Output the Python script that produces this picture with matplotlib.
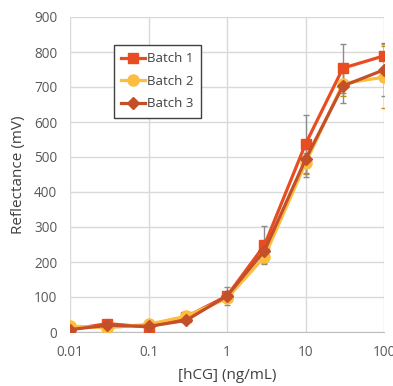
import matplotlib
matplotlib.use("Agg")
import matplotlib.pyplot as plt
from matplotlib.ticker import FixedLocator, FixedFormatter, NullLocator

conc = [0.01, 0.03, 0.1, 0.3, 1, 3, 10, 30, 100]
batch1 = [7, 24, 14, 43, 103, 248, 537, 754, 789]
batch2 = [17, 12, 22, 45, 96, 215, 482, 710, 728]
batch3 = [7, 19, 16, 33, 103, 232, 493, 703, 749]
err1 = [3, 6, 4, 6, 25, 55, 82, 70, 37]
err2 = [2, 3, 3, 4, 8, 17, 30, 35, 88]
err3 = [2, 4, 3, 4, 10, 25, 50, 50, 75]

xticks = [0.01, 0.1, 1, 10, 100]
xticklabels = ["0.01", "0.1", "1", "10", "100"]
yticks = [0, 100, 200, 300, 400, 500, 600, 700, 800, 900]

plt.rcParams['font.family'] = ['Open Sans', 'DejaVu Sans']

fig = plt.figure(figsize=(3.93, 3.86), dpi=100)
ax = fig.add_axes([70/393, 1-332/386, 314/393, 315/386])

series = [
    (batch1, err1, '#E84C22', 's', 7.5, 'Batch 1', '#8C8C8C'),
    (batch2, err2, '#FDBD3E', 'o', 8, 'Batch 2', '#C09010'),
    (batch3, err3, '#C4502A', 'D', 6, 'Batch 3', '#8C8C8C'),
]
for vals, err, col, mk, ms, lab, ecol in series:
    ax.errorbar(conc, vals, yerr=err, fmt='none', ecolor=ecol, elinewidth=1.0,
                capsize=2.5, capthick=1.0, zorder=2)
for vals, err, col, mk, ms, lab, ecol in series:
    ax.plot(conc, vals, color=col, marker=mk, markersize=ms, linewidth=2.3,
            label=lab, zorder=3)

ax.set_xscale('log')
ax.set_xlim(0.01, 100)
ax.set_ylim(0, 900)
ax.xaxis.set_major_locator(FixedLocator(xticks))
ax.xaxis.set_major_formatter(FixedFormatter(xticklabels))
ax.xaxis.set_minor_locator(NullLocator())
ax.set_yticks(yticks)

ax.grid(True, color='#D9D9D9', linewidth=1.0, zorder=0)
ax.set_axisbelow(True)
for s in ['top', 'right', 'left']:
    ax.spines[s].set_visible(False)
ax.spines['bottom'].set_color('#BFBFBF')
ax.tick_params(axis='both', length=0, labelsize=9.8, colors='#595959')
ax.tick_params(axis='x', pad=9)
ax.tick_params(axis='y', pad=9)

ax.set_xlabel('[hCG] (ng/mL)', fontsize=11, color='#404040', labelpad=6)
ax.set_ylabel('Reflectance (mV)', fontsize=11, color='#404040', labelpad=6)

leg = ax.legend(loc='upper left', bbox_to_anchor=(0.140, 0.911), fontsize=9.5,
                frameon=True, fancybox=False, framealpha=1, edgecolor='#404040',
                handlelength=1.8, handletextpad=0.15, borderpad=0.55, labelspacing=0.72,
                borderaxespad=0)
leg.get_frame().set_linewidth(1.0)
for t in leg.get_texts():
    t.set_color('#404040')

fig.savefig('out.png', dpi=100)
